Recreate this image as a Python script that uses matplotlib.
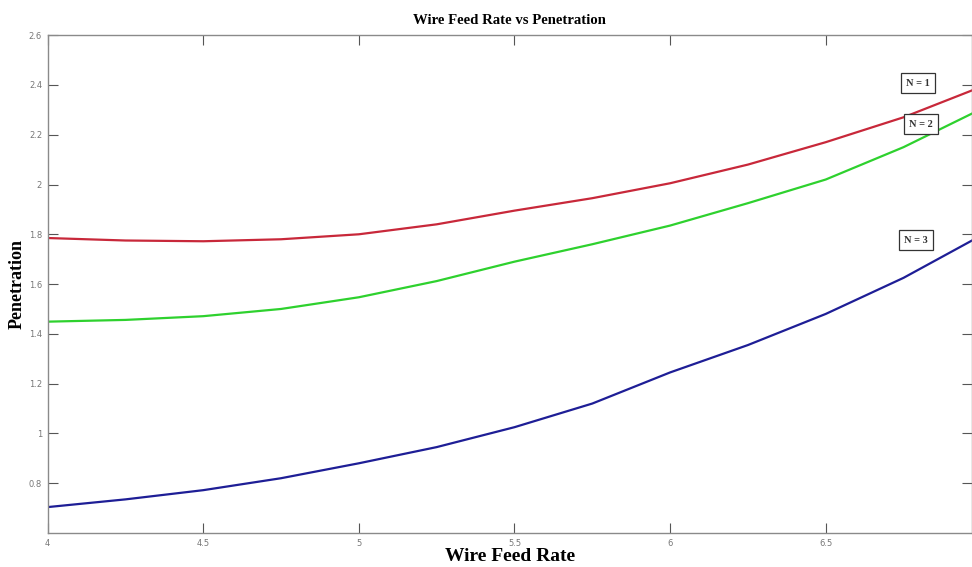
import matplotlib.pyplot as plt

# wire feed rate (x) and penetration for each N
feed_rate = [4.0, 4.25, 4.5, 4.75, 5.0, 5.25, 5.5, 5.75, 6.0, 6.25, 6.5, 6.75, 6.97]
pen_n1 = [1.785, 1.775, 1.772, 1.780, 1.800, 1.840, 1.895, 1.945, 2.005, 2.080, 2.170, 2.270, 2.378]
pen_n2 = [1.449, 1.456, 1.471, 1.500, 1.547, 1.612, 1.690, 1.760, 1.835, 1.925, 2.020, 2.150, 2.285]
pen_n3 = [0.704, 0.735, 0.772, 0.820, 0.880, 0.945, 1.025, 1.120, 1.245, 1.355, 1.480, 1.625, 1.775]

x_ticks = [4, 4.5, 5, 5.5, 6, 6.5]
x_ticklabels = ["4", "4.5", "5", "5.5", "6", "6.5"]
y_ticks = [0.8, 1.0, 1.2, 1.4, 1.6, 1.8, 2.0, 2.2, 2.4, 2.6]
y_ticklabels = ["0.8", "1", "1.2", "1.4", "1.6", "1.8", "2", "2.2", "2.4", "2.6"]

# curve labels and where they sit
labels = ["N = 1", "N = 2", "N = 3"]
label_pos = [(6.797, 2.407), (6.807, 2.243), (6.791, 1.777)]

serif = ["Liberation Serif", "DejaVu Serif"]

fig = plt.figure(figsize=(9.72, 5.67), dpi=100)
ax = fig.add_axes([0.049, 0.06, 0.951, 0.878])

ax.plot(feed_rate, pen_n1, color="#c8283a", lw=1.6)
ax.plot(feed_rate, pen_n2, color="#2ed12e", lw=1.6)
ax.plot(feed_rate, pen_n3, color="#1e1e96", lw=1.6)

for txt, (tx, ty) in zip(labels, label_pos):
    ax.text(tx, ty, txt, ha="center", va="center", fontsize=7.5,
            family=serif, fontweight="bold", color="#333333",
            bbox=dict(boxstyle="square,pad=0.5", fc="white", ec="#333333", lw=0.9))

ax.set_xlim(4, 6.97)
ax.set_ylim(0.6, 2.6)
ax.set_xticks(x_ticks)
ax.set_xticklabels(x_ticklabels)
ax.set_yticks(y_ticks)
ax.set_yticklabels(y_ticklabels)
ax.tick_params(direction="in", length=7, width=0.8, color="#555555",
               labelsize=6, labelcolor="#777777", top=True, right=True, pad=4)

for sp in ax.spines.values():
    sp.set_color("#8a8a8a")
    sp.set_linewidth(1.0)

ax.set_title("Wire Feed Rate vs Penetration", fontsize=10.6, fontweight="bold",
             family=serif, pad=8)
ax.set_xlabel("Wire Feed Rate", fontsize=14, fontweight="bold", family=serif, labelpad=0)
ax.set_ylabel("Penetration", fontsize=13, fontweight="bold", family=serif, labelpad=2)

fig.savefig("out.png", dpi=100)
